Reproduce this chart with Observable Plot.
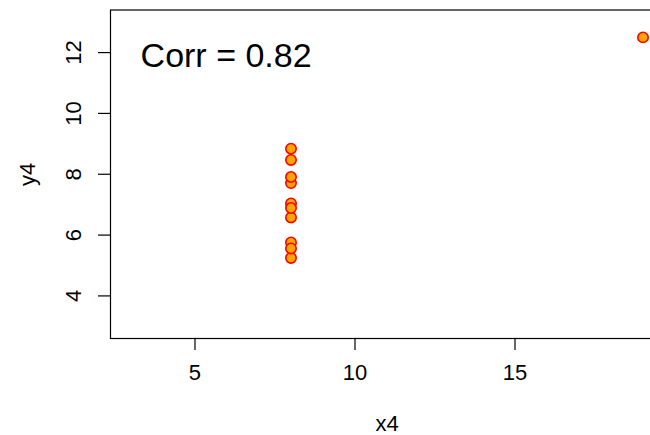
<!DOCTYPE html>
<html>
<head>
<meta charset="utf-8">
<script src="https://cdn.jsdelivr.net/npm/d3@7"></script>
<script src="https://cdn.jsdelivr.net/npm/@observablehq/plot@0.6"></script>
<style>
  html, body { margin: 0; padding: 0; background: #fff; overflow: hidden; }
  #chart svg { overflow: hidden; }
</style>
</head>
<body>
<div id="chart"></div>
<script>
const x4 = [8, 8, 8, 8, 8, 8, 8, 19, 8, 8, 8];
const y4 = [6.58, 5.76, 7.71, 8.84, 8.47, 7.04, 5.25, 12.50, 5.56, 7.91, 6.89];
const xTicks = [5, 10, 15];
const yTicks = [4, 6, 8, 10, 12];
const corrLabel = "Corr = 0.82";

const data = x4.map((x, i) => ({x, y: y4[i]}));

const chart = Plot.plot({
  width: 650,
  height: 435,
  marginLeft: 110,
  marginRight: -13,
  marginTop: 9.5,
  marginBottom: 97,
  style: {fontFamily: "'Liberation Sans', Arial, Helvetica, sans-serif", fontSize: "22px", color: "#000", background: "#fff", overflow: "hidden"},
  x: {domain: [2.36, 19.64]},
  y: {domain: [2.6, 13.4]},
  marks: [
    Plot.frame({stroke: "#000", strokeWidth: 1.2}),
    Plot.axisX({ticks: xTicks, tickSize: 12, tickPadding: 14, tickFormat: d => d, label: "x4", labelAnchor: "center", labelOffset: 92, labelArrow: "none", stroke: "#000", strokeWidth: 1.2}),
    Plot.axisY({ticks: yTicks, tickSize: 12, tickPadding: 18, tickRotate: -90, tickFormat: d => d, label: "y4", labelAnchor: "center", labelOffset: 91, labelArrow: "none", stroke: "#000", strokeWidth: 1.2}),
    Plot.dot(data, {x: "x", y: "y", r: 5.2, fill: "orange", stroke: "red", strokeWidth: 1.6}),
    Plot.text([corrLabel], {x: 3.3, y: 11.88, text: d => d, textAnchor: "start", fontSize: 34, fill: "#000"})
  ]
});
document.getElementById("chart").appendChild(chart);
</script>
</body>
</html>
